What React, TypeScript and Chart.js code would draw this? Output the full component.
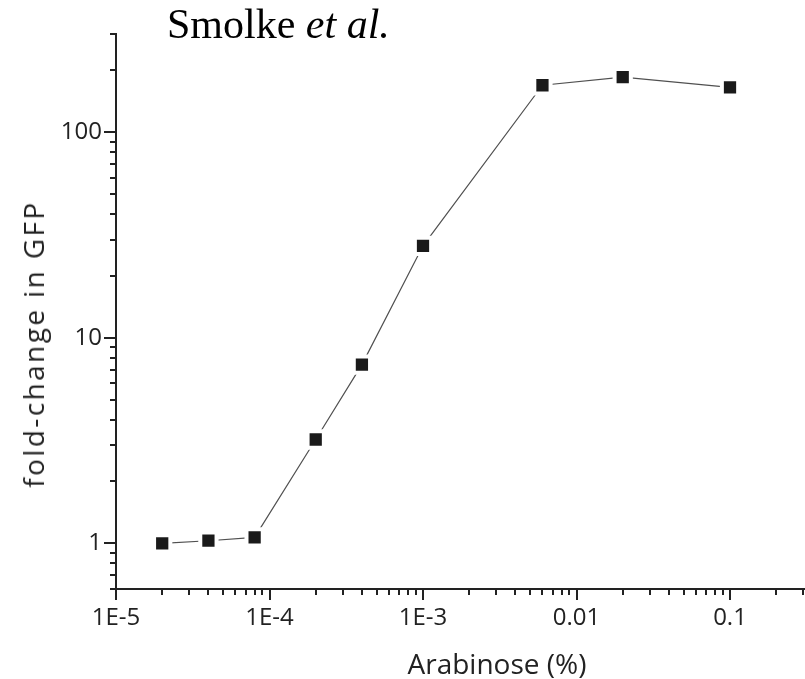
import React, { useEffect, useRef } from 'react';
import { Chart, registerables } from 'chart.js';

Chart.register(...registerables);

// ---- data ----
const arabinose = [2e-5, 4e-5, 8e-5, 2e-4, 4e-4, 1e-3, 6e-3, 2e-2, 1e-1];
const foldChange = [1.0, 1.03, 1.07, 3.2, 7.4, 28, 169, 185, 165];

const xTickValues = [1e-5, 1e-4, 1e-3, 1e-2, 1e-1];
const xTickLabels = ['1E-5', '1E-4', '1E-3', '0.01', '0.1'];
const yTickValues = [1, 10, 100];
const yTickLabels = ['1', '10', '100'];

const xMin = 1e-5;
const xMax = 0.308;
const yMin = 0.6;
const yMax = 300;

const axisColor = '#222222';
const tickFont = { family: '"Open Sans", "Noto Sans", sans-serif', size: 24 };

function logTicks(min: number, max: number): number[] {
  const out: number[] = [];
  const e0 = Math.floor(Math.log10(min));
  const e1 = Math.ceil(Math.log10(max));
  for (let e = e0; e <= e1; e++) {
    for (let m = 1; m <= 9; m++) {
      const v = parseFloat((m * Math.pow(10, e)).toPrecision(12));
      if (v >= min * (1 - 1e-9) && v <= max * (1 + 1e-9)) out.push(v);
    }
  }
  return out;
}

function findIdx(list: number[], v: number) {
  return list.findIndex((t) => Math.abs(t - v) / t < 1e-6);
}

const tickMarks = {
  id: 'tickMarks',
  afterDraw(chart: any) {
    const ctx = chart.ctx;
    const xs = chart.scales.x;
    const ys = chart.scales.y;
    const area = chart.chartArea;
    ctx.save();
    ctx.strokeStyle = axisColor;
    ctx.lineWidth = 2;
    ctx.lineCap = 'butt';
    xs.ticks.forEach((t: any) => {
      const px = Math.round(xs.getPixelForValue(t.value));
      const major = findIdx(xTickValues, t.value) >= 0;
      const len = major ? 11 : 6;
      ctx.beginPath();
      ctx.moveTo(px, area.bottom);
      ctx.lineTo(px, area.bottom + len);
      ctx.stroke();
    });
    ys.ticks.forEach((t: any) => {
      const py = Math.round(ys.getPixelForValue(t.value));
      const major = findIdx(yTickValues, t.value) >= 0;
      const len = major ? 12 : 6;
      ctx.beginPath();
      ctx.moveTo(area.left, py);
      ctx.lineTo(area.left - len, py);
      ctx.stroke();
    });
    ctx.restore();
  },
};

export default function App() {
  const canvasRef = useRef<HTMLCanvasElement | null>(null);

  useEffect(() => {
    const canvas = canvasRef.current;
    if (!canvas) return;
    const chart = new Chart(canvas, {
      type: 'line',
      data: {
        datasets: [
          {
            data: arabinose.map((x, i) => ({ x, y: foldChange[i] })),
            borderColor: '#505050',
            borderWidth: 1.2,
            tension: 0,
            pointStyle: 'rect',
            pointRadius: 11.5,
            pointHoverRadius: 11.5,
            pointBackgroundColor: '#1a1a1a',
            pointBorderColor: '#ffffff',
            pointBorderWidth: 4,
          },
        ],
      },
      options: {
        animation: false,
        responsive: false,
        maintainAspectRatio: false,
        layout: { autoPadding: false, padding: { top: 34, right: 0, left: 0, bottom: 0 } },
        plugins: {
          legend: { display: false },
          tooltip: { enabled: false },
          title: { display: false },
        },
        scales: {
          x: {
            type: 'logarithmic',
            min: xMin,
            max: xMax,
            afterBuildTicks: (scale: any) => {
              scale.ticks = logTicks(xMin, xMax).map((v) => ({ value: v }));
            },
            afterFit: (scale: any) => {
              scale.height = 90;
              scale.paddingLeft = 0;
              scale.paddingRight = 0;
            },
            grid: { display: true, drawOnChartArea: false, drawTicks: false },
            border: { display: true, color: axisColor, width: 2 },
            ticks: {
              autoSkip: false,
              maxRotation: 0,
              minRotation: 0,
              padding: 15,
              color: axisColor,
              font: tickFont,
              callback: (value: any) => {
                const i = findIdx(xTickValues, Number(value));
                return i >= 0 ? xTickLabels[i] : '';
              },
            },
          },
          y: {
            type: 'logarithmic',
            min: yMin,
            max: yMax,
            afterBuildTicks: (scale: any) => {
              scale.ticks = logTicks(yMin, yMax).map((v) => ({ value: v }));
            },
            afterFit: (scale: any) => {
              scale.width = 116;
              scale.paddingTop = 0;
              scale.paddingBottom = 0;
            },
            grid: { display: true, drawOnChartArea: false, drawTicks: false },
            border: { display: true, color: axisColor, width: 2 },
            ticks: {
              autoSkip: false,
              padding: 14,
              color: axisColor,
              font: tickFont,
              callback: (value: any) => {
                const i = findIdx(yTickValues, Number(value));
                return i >= 0 ? yTickLabels[i] : '';
              },
            },
          },
        },
      },
      plugins: [tickMarks],
    } as any);
    return () => chart.destroy();
  }, []);

  return (
    <div style={{ position: 'absolute', left: 0, top: 0, width: 805, height: 679, background: '#ffffff', overflow: 'hidden' }}>
      <canvas ref={canvasRef} width={805} height={679} style={{ width: 805, height: 679, display: 'block' }} />
      <div
        style={{
          position: 'absolute',
          left: 167,
          top: 3,
          fontFamily: '"Liberation Serif", "Times New Roman", serif',
          fontSize: 42,
          lineHeight: '42px',
          color: '#000000',
          whiteSpace: 'nowrap',
        }}
      >
        Smolke <i>et al.</i>
      </div>
      <div
        style={{
          position: 'absolute',
          left: 497,
          top: 649,
          transform: 'translateX(-50%)',
          fontFamily: '"Open Sans", "Noto Sans", sans-serif',
          fontSize: 28,
          lineHeight: '28px',
          color: axisColor,
          whiteSpace: 'nowrap',
        }}
      >
        Arabinose (%)
      </div>
      <div
        style={{
          position: 'absolute',
          left: 33,
          top: 344,
          transform: 'translate(-50%, -50%) rotate(-90deg)',
          fontFamily: '"Open Sans", "Noto Sans", sans-serif',
          fontSize: 28,
          lineHeight: '28px',
          letterSpacing: '2.4px',
          color: axisColor,
          whiteSpace: 'nowrap',
        }}
      >
        fold-change in GFP
      </div>
    </div>
  );
}
